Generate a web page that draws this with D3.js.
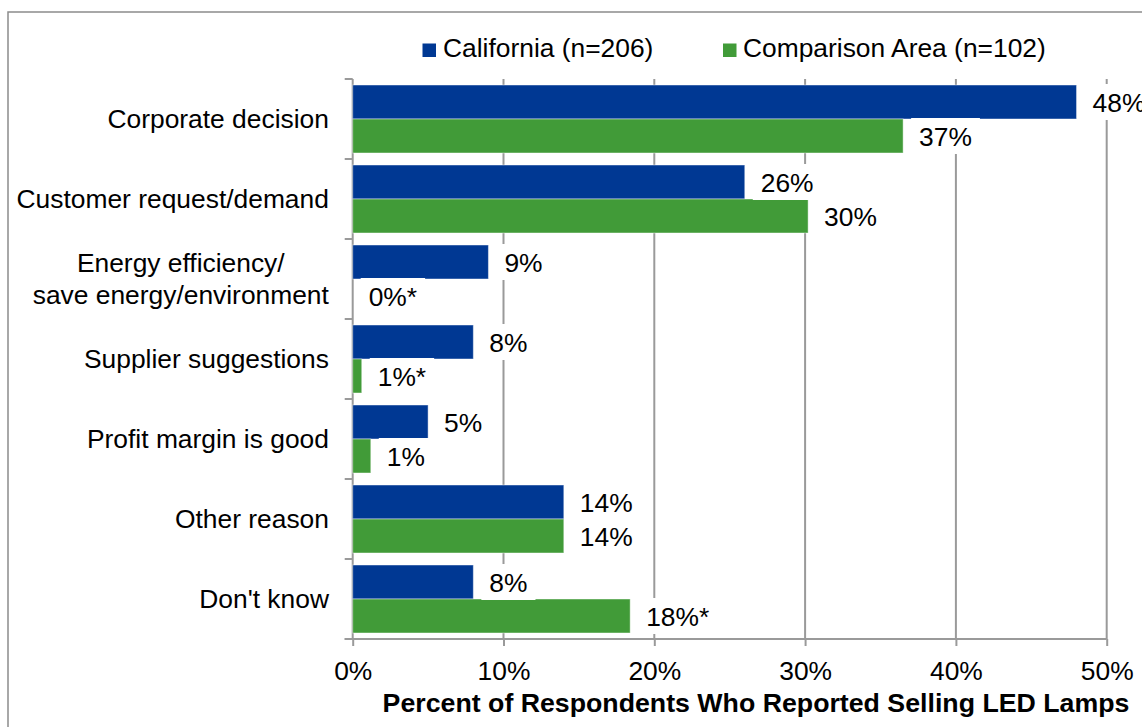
<!DOCTYPE html>
<html>
<head>
<meta charset="utf-8">
<script src="https://cdn.jsdelivr.net/npm/d3@7/dist/d3.min.js"></script>
<style>
  html, body { margin: 0; padding: 0; background: #fff; }
  svg { display: block; }
  text { font-family: "Liberation Sans", Arial, sans-serif; fill: #000; }
</style>
</head>
<body>
<svg id="chart" width="1142" height="727"></svg>
<script>
// Reasons for selling LED lamps, share of respondents (%)
const categories = [
  ["Corporate decision"],
  ["Customer request/demand"],
  ["Energy efficiency/", "save energy/environment"],
  ["Supplier suggestions"],
  ["Profit margin is good"],
  ["Other reason"],
  ["Don't know"]
];
const seriesNames = ["California (n=206)", "Comparison Area (n=102)"];
const californiaValues = [48, 26, 9, 8, 5, 14, 8];
const comparisonValues = [36.5, 30.2, 0, 0.6, 1.2, 14, 18.4];
// statistically significant difference marker
const comparisonSignificant = [false, false, true, true, false, false, true];
const californiaSignificant = [false, false, false, false, false, false, false];
const xTicks = [0, 10, 20, 30, 40, 50];
const xTitle = "Percent of Respondents Who Reported Selling LED Lamps";

const colors = ["#003893", "#419b38"];
const FONT = 25;
const SX = 1.056;          // slightly wide text face

const svg = d3.select("#chart");

// place a text element at (px, py) with the horizontal stretch applied
function place(sel, px, py, sx = SX) {
  return sel.attr("transform", `translate(${px},${py}) scale(${sx},1)`);
}

// outer frame
svg.append("rect")
  .attr("x", 8).attr("y", 12).attr("width", 1300).attr("height", 900)
  .attr("fill", "none").attr("stroke", "#8c8c8c").attr("stroke-width", 1.5);

const x = d3.scaleLinear().domain([0, 50]).range([352.7, 1106.7]);
const y = d3.scaleBand()
  .domain(d3.range(categories.length))
  .range([79, 639])
  .paddingInner(0.15)
  .paddingOuter(0.075);
const ySub = d3.scaleBand().domain([0, 1]).range([0, y.bandwidth()]);
const bandTop = i => 79 + 80 * i;

const gridColor = "#9a9a9a";

// vertical gridlines
svg.append("g").selectAll("line")
  .data(xTicks.filter(t => t > 0))
  .join("line")
  .attr("x1", d => x(d)).attr("x2", d => x(d))
  .attr("y1", 79).attr("y2", 639)
  .attr("stroke", gridColor).attr("stroke-width", 2);

// x axis
const xAxis = svg.append("g")
  .attr("transform", "translate(0,639)")
  .call(d3.axisBottom(x).tickValues(xTicks).tickFormat(d => d + "%").tickSize(7).tickPadding(10));
xAxis.select(".domain").attr("stroke", gridColor).attr("stroke-width", 2)
  .attr("d", `M${x(0) - 8},0H${x(50)}`);
xAxis.selectAll(".tick line").attr("stroke", gridColor).attr("stroke-width", 2);
xAxis.selectAll(".tick text")
  .attr("font-size", FONT).attr("font-family", "Liberation Sans, Arial, sans-serif")
  .attr("fill", "#000").attr("dy", null).attr("y", null)
  .attr("transform", `translate(0,41) scale(${SX},1)`);

// y axis line with boundary ticks
const yAxisG = svg.append("g");
yAxisG.append("line")
  .attr("x1", x(0)).attr("x2", x(0)).attr("y1", 79).attr("y2", 639)
  .attr("stroke", gridColor).attr("stroke-width", 2);
yAxisG.selectAll("line.tk")
  .data(d3.range(categories.length + 1))
  .join("line").attr("class", "tk")
  .attr("x1", x(0) - 8).attr("x2", x(0))
  .attr("y1", d => bandTop(d)).attr("y2", d => bandTop(d))
  .attr("stroke", gridColor).attr("stroke-width", 2);

// category labels: block right-aligned, lines centred within the block
const catG = svg.append("g");
categories.forEach((lines, i) => {
  const cy = bandTop(i) + 40;
  const lineH = 31.6;
  const g = catG.append("g");
  const texts = lines.map(ln => g.append("text")
    .attr("font-size", FONT)
    .attr("text-anchor", "middle")
    .text(ln));
  const maxW = d3.max(texts, t => t.node().getComputedTextLength()) * SX;
  const rightEdge = 329;
  texts.forEach((t, k) =>
    place(t, rightEdge - maxW / 2, cy + (k - (lines.length - 1) / 2) * lineH + 9));
});

// bars
const series = [californiaValues, comparisonValues];
const flags = [californiaSignificant, comparisonSignificant];
const barsG = svg.append("g");
series.forEach((vals, s) => {
  barsG.selectAll(null)
    .data(vals)
    .join("rect")
    .attr("x", x(0))
    .attr("y", (d, i) => y(i) + ySub(s))
    .attr("width", d => x(d) - x(0))
    .attr("height", ySub.bandwidth())
    .attr("fill", colors[s])
    .attr("stroke", d => d > 0 ? "rgba(255,255,255,0.45)" : "none")
    .attr("stroke-width", 1);
});

// value labels with white backing boxes
const labG = svg.append("g");
series.forEach((vals, s) => {
  vals.forEach((v, i) => {
    const cy = y(i) + ySub(s) + ySub.bandwidth() / 2;
    const tx = x(v) + 16;
    const g = labG.append("g");
    const box = g.append("rect").attr("fill", "#fff");
    const t = g.append("text")
      .attr("font-size", FONT)
      .text(Math.round(v) + "%" + (flags[s][i] ? "*" : ""));
    place(t, tx, cy + 9.5);
    const w = t.node().getComputedTextLength() * SX;
    box.attr("x", tx - 8).attr("y", cy - 18).attr("width", w + 16).attr("height", 36);
  });
});

// legend
const legend = svg.append("g");
const legendPos = [{sx: 422.5, tx: 443}, {sx: 723, tx: 743}];
seriesNames.forEach((name, s) => {
  legend.append("rect")
    .attr("x", legendPos[s].sx).attr("y", 43.5)
    .attr("width", 13.5).attr("height", 13.5)
    .attr("fill", colors[s]);
  place(legend.append("text").attr("font-size", FONT).text(name),
    legendPos[s].tx, 57);
});

// axis title
place(svg.append("text")
  .attr("font-size", 26)
  .attr("font-weight", "bold")
  .attr("text-anchor", "middle")
  .text(xTitle), 756, 712, 1.028);
</script>
</body>
</html>
